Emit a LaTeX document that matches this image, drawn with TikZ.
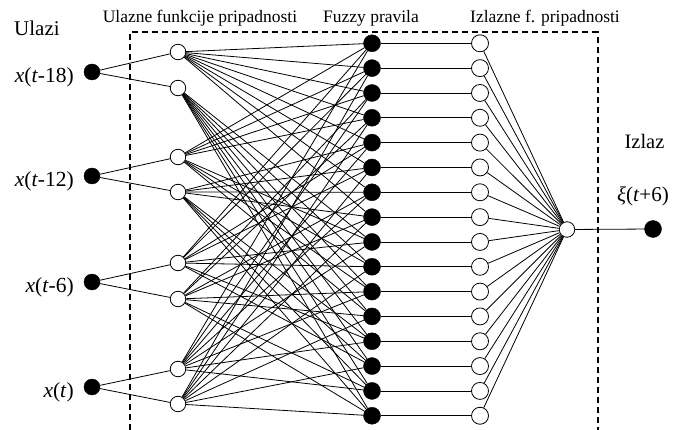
\documentclass[tikz,border=0pt]{standalone}
\usepackage{fontspec}
\setmainfont{Liberation Serif}
\pgfdeclarelayer{background}
\pgfsetlayers{background,main}
\begin{document}
\begin{tikzpicture}[x=1pt,y=-1pt,
  filled/.style={circle,fill=black,draw=black,inner sep=0pt,minimum size=16pt},
  hollow/.style={circle,fill=white,draw=black,line width=0.8pt,inner sep=0pt,minimum size=15.5pt},
  link/.style={line width=0.8pt},
  frame/.style={line width=2pt,dash pattern=on 6pt off 4pt},
  hdr/.style={font=\fontsize{17.5}{20}\selectfont,anchor=base,inner sep=0pt},
  lbl/.style={font=\fontsize{21.5}{24}\selectfont,anchor=base east,inner sep=0pt}]
\useasboundingbox (0,0) rectangle (682,430);

% inputs
\foreach \k/\y in {1/72,2/176,3/282,4/387}
  \node[filled] (in\k) at (92,\y) {};
% input membership functions
\foreach \k/\y in {1/52,2/88,3/157,4/192,5/263,6/299,7/369,8/404}
  \node[hollow] (m\k) at (178,\y) {};
% rules and output membership functions
\foreach \i in {1,...,16} {
  \pgfmathsetmacro\yy{43.3+24.83*(\i-1)}
  \node[filled,minimum size=17pt] (r\i) at (372,\yy) {};
  \node[hollow,minimum size=17pt] (o\i) at (480,\yy) {};
}
\node[hollow] (out) at (567,229.5) {};
\node[filled,minimum size=17pt] (fin) at (653,229) {};

% labels
\node[font=\fontsize{21}{24}\selectfont,anchor=base west,inner sep=0pt] (tin) at (14,36) {Ulazi};
\node[hdr] (h1) at (200,23) {Ulazne funkcije pripadnosti};
\node[hdr] (h2) at (371,23) {Fuzzy pravila};
\node[hdr] (h3) at (545,23) {Izlazne f. pripadnosti};
\node[font=\fontsize{20.5}{24}\selectfont,anchor=base,inner sep=0pt] (tout) at (644.5,149) {Izlaz};
\node[font=\fontsize{21}{24}\selectfont,anchor=base,inner sep=0pt] (xi) at (643,202) {\textit{ξ}(\textit{t}+6)};
\node[lbl] (l1) at (74,82.5) {\textit{x}(\textit{t}-18)};
\node[lbl] (l2) at (74,186.5) {\textit{x}(\textit{t}-12)};
\node[lbl] (l3) at (74,292.5) {\textit{x}(\textit{t}-6)};
\node[lbl] (l4) at (74,397.5) {\textit{x}(\textit{t})};

\begin{pgfonlayer}{background}
  \foreach \k in {1,...,4} {
    \pgfmathtruncatemacro\ma{2*\k-1}
    \pgfmathtruncatemacro\mb{2*\k}
    \draw[link] (in\k) -- (m\ma);
    \draw[link] (in\k) -- (m\mb);
  }
  \foreach \i in {1,...,16} {
    \pgfmathtruncatemacro\j{\i-1}
    \pgfmathtruncatemacro\ba{1+div(\j,8)}
    \pgfmathtruncatemacro\bb{3+mod(div(\j,4),2)}
    \pgfmathtruncatemacro\bc{5+mod(div(\j,2),2)}
    \pgfmathtruncatemacro\bd{7+mod(\j,2)}
    \draw[link] (m\ba) -- (r\i);
    \draw[link] (m\bb) -- (r\i);
    \draw[link] (m\bc) -- (r\i);
    \draw[link] (m\bd) -- (r\i);
    \draw[link] (r\i) -- (o\i);
    \draw[link] (o\i) -- (out);
  }
  \draw[link] (out) -- (fin);
\end{pgfonlayer}

% dashed frame
\draw[frame] (130,430) -- (130,32.3) -- (597.7,32.3) -- (597.7,430);
\end{tikzpicture}
\end{document}
